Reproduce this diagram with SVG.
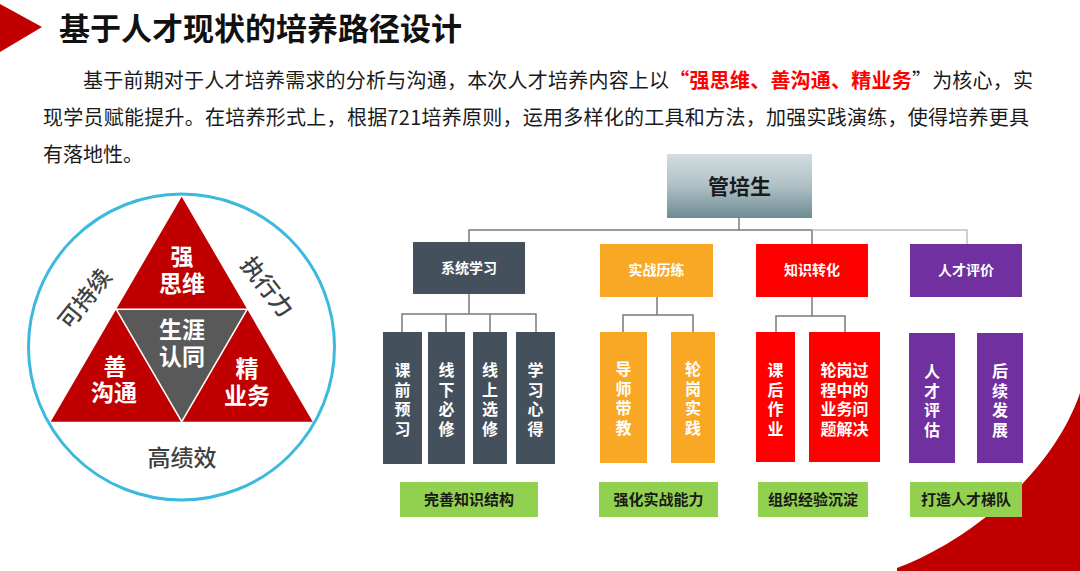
<svg xmlns="http://www.w3.org/2000/svg" width="1080" height="571" viewBox="0 0 1080 571">
<defs>
<linearGradient id="gHead" x1="0" y1="0" x2="0" y2="1">
<stop offset="0" stop-color="#D2DEE1"/>
<stop offset="0.5" stop-color="#AFC0C5"/>
<stop offset="1" stop-color="#6E8B94"/>
</linearGradient>
</defs>
<style>
text{font-family:"Noto Sans CJK SC","Liberation Sans",sans-serif;}
.title{font-size:31px;font-weight:bold;fill:#111;}
.para{font-size:20px;fill:#1a1a1a;}
.red{fill:#FF0000;font-weight:bold;}
.tri{font-size:23px;font-weight:bold;fill:#fff;text-anchor:middle;}
.ring{font-size:23px;fill:#404040;text-anchor:middle;font-weight:500;}
.l2{font-size:14px;font-weight:bold;fill:#fff;text-anchor:middle;}
.l3{font-size:16px;font-weight:bold;fill:#fff;text-anchor:middle;}
.gr{font-size:15px;font-weight:bold;fill:#1a1a1a;text-anchor:middle;}
.dk{stroke:#7A7A7A;stroke-width:1.5;fill:none;}
.lt{stroke:#BFBFBF;stroke-width:1.5;fill:none;}
.slate{fill:#44505C;}
.orange{fill:#F9A825;}
.redbox{fill:#FF0000;}
.purple{fill:#7030A0;}
.green{fill:#92D050;}
</style>
<rect width="1080" height="571" fill="#fff"/>
<!-- decorations -->
<polygon points="0,4 42,27 0,52" fill="#C00000"/>
<path d="M897,568 C960,545 1050,480 1080,393 L1080,571 L897,571 Z" fill="#C00000"/>
<text class="title" x="59" y="40">基于人才现状的培养路径设计</text>
<!-- paragraph -->
<text class="para" x="83" y="88" textLength="950" lengthAdjust="spacing">基于前期对于人才培养需求的分析与沟通，本次人才培养内容上以<tspan class="red">“强思维、善沟通、精业务</tspan>”为核心，实</text>
<text class="para" x="43" y="125" textLength="986" lengthAdjust="spacing">现学员赋能提升。在培养形式上，根据721培养原则，运用多样化的工具和方法，加强实践演练，使得培养更具</text>
<text class="para" x="43" y="162">有落地性。</text>
<!-- left circle model -->
<g id="model">
<circle cx="181.5" cy="347" r="153" fill="none" stroke="#3CB9DC" stroke-width="3"/>
<polygon points="181.7,196.7 312.7,421.7 50.7,421.7" fill="#C00000"/>
<polygon points="116.2,309.2 247.2,309.2 181.7,421.7" fill="#595959" stroke="#fff" stroke-width="1.5"/>
<text class="tri" x="182" y="265">强</text>
<text class="tri" x="182" y="292">思维</text>
<text class="tri" x="182" y="338">生涯</text>
<text class="tri" x="182" y="365">认同</text>
<text class="tri" x="115" y="375">善</text>
<text class="tri" x="114" y="401">沟通</text>
<text class="tri" x="247" y="377">精</text>
<text class="tri" x="247" y="404">业务</text>
<text class="ring" transform="translate(85,299) rotate(-51)" y="8">可持续</text>
<text class="ring" transform="translate(267,287) rotate(52)" y="8">执行力</text>
<text class="ring" x="182" y="466">高绩效</text>
</g>
<!-- connectors -->
<g id="connectors">
<polyline class="dk" points="739,218 739,230"/>
<polyline class="dk" points="469,242 469,230 812,230 812,244"/>
<polyline class="lt" points="812,230 967,230 967,244"/>
<polyline class="dk" points="469,294 469,314"/>
<polyline class="dk" points="402,332 402,314 536,314 536,332"/>
<polyline class="dk" points="446,314 446,332"/>
<polyline class="dk" points="490,314 490,332"/>
<polyline class="dk" points="657,297 657,315"/>
<polyline class="dk" points="623,332 623,315 693,315 693,332"/>
<polyline class="dk" points="812,297 812,316"/>
<polyline class="dk" points="776,332 776,316 845,316 845,332"/>
</g>
<!-- root -->
<g id="root">
<rect x="667" y="154" width="145" height="64" fill="url(#gHead)"/>
<text x="739.5" y="194" font-size="21" font-weight="bold" fill="#1a1a1a" text-anchor="middle">管培生</text>
</g>
<!-- level 2 -->
<g id="n-xtxx"><rect class="slate" x="413" y="242" width="112" height="52"/><text class="l2" x="469" y="273">系统学习</text></g>
<g id="n-szll"><rect class="orange" x="600" y="244" width="113" height="53"/><text class="l2" x="656.5" y="275">实战历练</text></g>
<g id="n-zszh"><rect class="redbox" x="756" y="244" width="112" height="53"/><text class="l2" x="812" y="275">知识转化</text></g>
<g id="n-rcpj"><rect class="purple" x="910" y="244" width="112" height="53"/><text class="l2" x="966" y="275">人才评价</text></g>
<!-- level 3 -->
<g id="n-kqyx"><rect class="slate" x="383" y="332" width="39" height="132"/>
<text class="l3"><tspan x="402.5" y="376">课</tspan><tspan x="402.5" y="395.5">前</tspan><tspan x="402.5" y="415">预</tspan><tspan x="402.5" y="434.5">习</tspan></text></g>
<g id="n-xxbx"><rect class="slate" x="428" y="332" width="37" height="132"/>
<text class="l3"><tspan x="446.5" y="376">线</tspan><tspan x="446.5" y="395.5">下</tspan><tspan x="446.5" y="415">必</tspan><tspan x="446.5" y="434.5">修</tspan></text></g>
<g id="n-xsxx"><rect class="slate" x="473" y="332" width="34" height="132"/>
<text class="l3"><tspan x="490" y="376">线</tspan><tspan x="490" y="395.5">上</tspan><tspan x="490" y="415">选</tspan><tspan x="490" y="434.5">修</tspan></text></g>
<g id="n-xxxd"><rect class="slate" x="516" y="332" width="39" height="132"/>
<text class="l3"><tspan x="535.5" y="376">学</tspan><tspan x="535.5" y="395.5">习</tspan><tspan x="535.5" y="415">心</tspan><tspan x="535.5" y="434.5">得</tspan></text></g>
<g id="n-dsdj"><rect class="orange" x="600" y="332" width="47" height="131"/>
<text class="l3"><tspan x="623.5" y="375">导</tspan><tspan x="623.5" y="394.5">师</tspan><tspan x="623.5" y="414">带</tspan><tspan x="623.5" y="433.5">教</tspan></text></g>
<g id="n-lgsj"><rect class="orange" x="671" y="332" width="44" height="131"/>
<text class="l3"><tspan x="693" y="375">轮</tspan><tspan x="693" y="394.5">岗</tspan><tspan x="693" y="414">实</tspan><tspan x="693" y="433.5">践</tspan></text></g>
<g id="n-khzy"><rect class="redbox" x="756" y="332" width="39" height="130"/>
<text class="l3"><tspan x="775.5" y="376">课</tspan><tspan x="775.5" y="395.5">后</tspan><tspan x="775.5" y="415">作</tspan><tspan x="775.5" y="434.5">业</tspan></text></g>
<g id="n-lggc"><rect class="redbox" x="809" y="332" width="71" height="130"/>
<text class="l3"><tspan x="844.5" y="376">轮岗过</tspan><tspan x="844.5" y="395.5">程中的</tspan><tspan x="844.5" y="415">业务问</tspan><tspan x="844.5" y="434.5">题解决</tspan></text></g>
<g id="n-rcpg"><rect class="purple" x="909" y="333" width="46" height="130"/>
<text class="l3"><tspan x="932" y="377">人</tspan><tspan x="932" y="396.5">才</tspan><tspan x="932" y="416">评</tspan><tspan x="932" y="435.5">估</tspan></text></g>
<g id="n-hxfz"><rect class="purple" x="977" y="333" width="46" height="130"/>
<text class="l3"><tspan x="1000" y="377">后</tspan><tspan x="1000" y="396.5">续</tspan><tspan x="1000" y="416">发</tspan><tspan x="1000" y="435.5">展</tspan></text></g>
<!-- outcomes -->
<g id="o-1"><rect class="green" x="400" y="482" width="138" height="35"/><text class="gr" x="469" y="505">完善知识结构</text></g>
<g id="o-2"><rect class="green" x="599" y="482" width="119" height="35"/><text class="gr" x="658.5" y="505">强化实战能力</text></g>
<g id="o-3"><rect class="green" x="758" y="482" width="110" height="35"/><text class="gr" x="813" y="505">组织经验沉淀</text></g>
<g id="o-4"><rect class="green" x="910" y="482" width="112" height="35"/><text class="gr" x="966" y="505">打造人才梯队</text></g>
</svg>
